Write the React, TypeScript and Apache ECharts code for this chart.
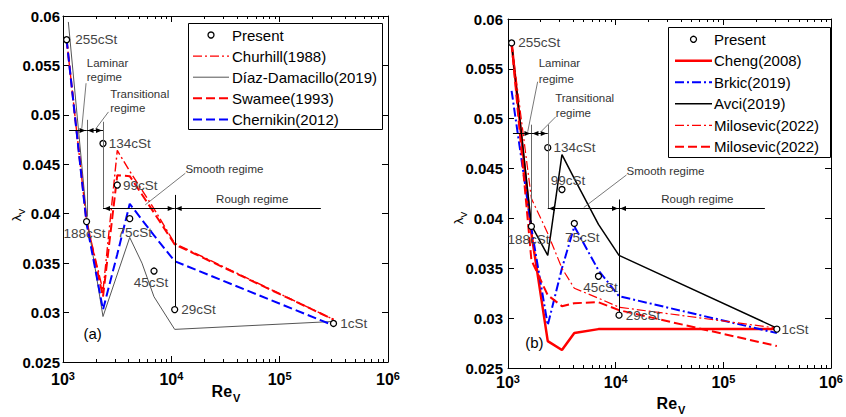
import React, { useEffect, useRef } from "react";
import * as echarts from "echarts";

const FONT = "'Liberation Sans', Arial, Helvetica, sans-serif";

// ---------- data ----------
const reynolds = [1080, 1650, 2340, 3170, 4130, 6920, 10740, 314000];
const presentLambda = [0.0576, 0.0392, 0.0471, 0.0429, 0.0395, 0.0342, 0.0303, 0.0289];
const viscosityLabels = ["255cSt", "188cSt", "134cSt", "99cSt", "75cSt", "45cSt", "29cSt", "1cSt"];

// panel (a)
const churchillLambda = [0.0576, 0.0392, 0.0322, 0.0464, 0.0443, 0.0405, 0.037, 0.0293];
const diazReynolds = [1120, 1650, 2340, 4130, 5360, 6920, 10740, 314000];
const diazLambda = [0.0594, 0.0398, 0.0296, 0.0376, 0.035, 0.0316, 0.0283, 0.0291];
const swameeLambda = [0.0576, 0.0392, 0.0316, 0.0439, 0.0438, 0.0401, 0.0369, 0.0293];
const chernikinLambda = [0.0576, 0.039, 0.0303, 0.0359, 0.041, 0.0378, 0.0352, 0.0287];

// panel (b)
const chengLambda = [0.0576, 0.0385, 0.0277, 0.0268, 0.0285, 0.0289, 0.0289, 0.0289];
const brkicLambda = [0.0528, 0.039, 0.0293, 0.035, 0.0392, 0.0348, 0.0322, 0.0285];
const avciLambda = [0.0576, 0.0393, 0.0363, 0.0464, 0.044, 0.0394, 0.0363, 0.029];
const milosevicDashDotLambda = [0.0576, 0.042, 0.0385, 0.035, 0.033, 0.032, 0.0311, 0.029];
const milosevicDashedLambda = [0.0576, 0.0358, 0.0323, 0.0312, 0.0315, 0.0316, 0.0308, 0.0272];

const minorTickValues = [
  2000, 3000, 4000, 5000, 6000, 7000, 8000, 9000,
  20000, 30000, 40000, 50000, 60000, 70000, 80000, 90000,
  200000, 300000, 400000, 500000, 600000, 700000, 800000, 900000,
];

const X_MIN = 1000;
const X_MAX = 1000000;
const Y_MIN = 0.025;
const Y_MAX = 0.06;
const Y_STEP = 0.005;

// ---------- styles ----------
type LineCfg = {
  name: string;
  re: number[];
  lambda: number[];
  color: string;
  width: number;
  dash: number[] | "solid";
};

const DASH: number[] = [9, 4];
const DASHDOT: number[] = [9, 3, 2, 3];

const leftLines: LineCfg[] = [
  { name: "Churhill(1988)", re: reynolds, lambda: churchillLambda, color: "#ff0000", width: 1.4, dash: DASHDOT },
  { name: "Díaz-Damacillo(2019)", re: diazReynolds, lambda: diazLambda, color: "#555555", width: 1, dash: "solid" },
  { name: "Swamee(1993)", re: reynolds, lambda: swameeLambda, color: "#ff0000", width: 2, dash: DASH },
  { name: "Chernikin(2012)", re: reynolds, lambda: chernikinLambda, color: "#0000ff", width: 2, dash: DASH },
];

const rightLines: LineCfg[] = [
  { name: "Cheng(2008)", re: reynolds, lambda: chengLambda, color: "#ff0000", width: 2.5, dash: "solid" },
  { name: "Brkic(2019)", re: reynolds, lambda: brkicLambda, color: "#0000ff", width: 2, dash: DASHDOT },
  { name: "Avci(2019)", re: reynolds, lambda: avciLambda, color: "#000000", width: 1.5, dash: "solid" },
  { name: "Milosevic(2022)", re: reynolds, lambda: milosevicDashDotLambda, color: "#ff0000", width: 1.2, dash: DASHDOT },
  { name: "Milosevic(2022) ", re: reynolds, lambda: milosevicDashedLambda, color: "#ff0000", width: 2, dash: DASH },
];

type LabelLayout = { position: string; distance: number; offset?: number[] };
const leftLabelLayout: Record<string, LabelLayout> = {
  "255cSt": { position: "right", distance: 5 },
  "188cSt": { position: "bottom", distance: 1, offset: [-2, 0] },
  "134cSt": { position: "right", distance: 2 },
  "99cSt": { position: "right", distance: 2 },
  "75cSt": { position: "bottom", distance: 3, offset: [5, 0] },
  "45cSt": { position: "bottom", distance: 1, offset: [-3, 0] },
  "29cSt": { position: "right", distance: 3 },
  "1cSt": { position: "right", distance: 3 },
};
const rightLabelLayout: Record<string, LabelLayout> = {
  "255cSt": { position: "right", distance: 3 },
  "188cSt": { position: "bottom", distance: 2, offset: [-3, 0] },
  "134cSt": { position: "right", distance: 2 },
  "99cSt": { position: "top", distance: -2, offset: [6, 0] },
  "75cSt": { position: "bottom", distance: 3, offset: [8, 0] },
  "45cSt": { position: "bottom", distance: 1, offset: [2, 0] },
  "29cSt": { position: "right", distance: 3 },
  "1cSt": { position: "right", distance: 1 },
};

// annotation geometry in data coordinates (Re, lambda)
type Annot = {
  vLines: { re: number; y1: number; y2: number; color: string }[];
  arrows: { from: number[]; to: number[]; heads: "start" | "end" | "both" }[];
  leaders: number[][][];
  texts: { text: string; at: number[]; align: string }[];
  panel: { text: string; at: number[] };
};

const leftAnnot: Annot = {
  vLines: [
    { re: 1650, y1: 0.0495, y2: 0.0397, color: "#666" },
    { re: 2340, y1: 0.0493, y2: 0.0406, color: "#666" },
    { re: 10740, y1: 0.0419, y2: 0.0306, color: "#000" },
  ],
  arrows: [
    { from: [1137, 0.0485], to: [1650, 0.0485], heads: "end" },
    { from: [1650, 0.0485], to: [2340, 0.0485], heads: "both" },
    { from: [2340, 0.0406], to: [10740, 0.0406], heads: "both" },
    { from: [10740, 0.0406], to: [240000, 0.0406], heads: "start" },
  ],
  leaders: [
    [[1633, 0.0532], [1490, 0.0486]],
    [[2629, 0.0503], [1979, 0.0485]],
    [[13480, 0.0441], [5745, 0.0409]],
  ],
  texts: [
    { text: "Laminar", at: [1658, 0.05525], align: "left" },
    { text: "regime", at: [1658, 0.05383], align: "left" },
    { text: "Transitional", at: [2725, 0.05211], align: "left" },
    { text: "regime", at: [2725, 0.05069], align: "left" },
    { text: "Smooth regime", at: [13480, 0.04452], align: "left" },
    { text: "Rough regime", at: [55800, 0.04149], align: "center" },
  ],
  panel: { text: "(a)", at: [1875, 0.0279] },
};

const rightAnnot: Annot = {
  vLines: [
    { re: 1650, y1: 0.0494, y2: 0.0399, color: "#666" },
    { re: 2340, y1: 0.0494, y2: 0.041, color: "#666" },
    { re: 10740, y1: 0.0419, y2: 0.0306, color: "#000" },
  ],
  arrows: [
    { from: [1111, 0.04855], to: [1650, 0.04855], heads: "end" },
    { from: [1650, 0.04855], to: [2340, 0.04855], heads: "both" },
    { from: [2340, 0.041], to: [10740, 0.041], heads: "both" },
    { from: [10740, 0.041], to: [243000, 0.041], heads: "start" },
  ],
  leaders: [
    [[1885, 0.05371], [1525, 0.0487]],
    [[2780, 0.0502], [2024, 0.0487]],
    [[12600, 0.04436], [5055, 0.0411]],
  ],
  texts: [
    { text: "Laminar", at: [1926, 0.05556], align: "left" },
    { text: "regime", at: [1926, 0.05398], align: "left" },
    { text: "Transitional", at: [2740, 0.05205], align: "left" },
    { text: "regime", at: [2780, 0.05054], align: "left" },
    { text: "Smooth regime", at: [12600, 0.04479], align: "left" },
    { text: "Rough regime", at: [57300, 0.04192], align: "center" },
  ],
  panel: { text: "(b)", at: [1758, 0.02754] },
};

// ---------- option builders ----------
function xAxisPair(gridIndex: number, labelMargin: number) {
  const base = {
    type: "log",
    logBase: 10,
    min: X_MIN,
    max: X_MAX,
    gridIndex,
    axisLine: { show: true, onZero: false, lineStyle: { color: "#000", width: 1 } },
    axisTick: { show: true, inside: true, length: 6, lineStyle: { color: "#000" } },
    splitLine: { show: false },
  };
  return [
    {
      ...base,
      position: "bottom",
      axisLabel: {
        show: true,
        margin: labelMargin,
        formatter: (v: number) => `{b|10}{s|${Math.round(Math.log10(v))}}`,
        rich: {
          b: { fontSize: 16, fontWeight: "bold", fontFamily: FONT, color: "#000", lineHeight: 18 },
          s: { fontSize: 11, fontWeight: "bold", fontFamily: FONT, color: "#000", verticalAlign: "top", lineHeight: 11 },
        },
      },
    },
    { ...base, position: "top", axisLabel: { show: false } },
  ];
}

function yAxisPair(gridIndex: number, labelMargin: number) {
  const base = {
    type: "value",
    min: Y_MIN,
    max: Y_MAX,
    interval: Y_STEP,
    gridIndex,
    axisLine: { show: true, onZero: false, lineStyle: { color: "#000", width: 1 } },
    axisTick: { show: true, inside: true, length: 6, lineStyle: { color: "#000" } },
    splitLine: { show: false },
  };
  return [
    {
      ...base,
      position: "left",
      axisLabel: {
        show: true,
        margin: labelMargin,
        fontSize: 15,
        fontWeight: "bold",
        fontFamily: FONT,
        color: "#000",
        formatter: (v: number) => String(parseFloat(v.toFixed(3))),
      },
    },
    { ...base, position: "right", axisLabel: { show: false } },
  ];
}

function lineSeries(cfgs: LineCfg[], axisIndex: number) {
  return cfgs.map((c) => ({
    type: "line",
    name: c.name,
    xAxisIndex: axisIndex,
    yAxisIndex: axisIndex,
    data: c.re.map((r, i) => [r, c.lambda[i]]),
    symbol: "none",
    showSymbol: false,
    silent: true,
    z: 2,
    lineStyle: { color: c.color, width: c.width, type: c.dash },
  }));
}

function presentSeries(axisIndex: number, layout: Record<string, LabelLayout>) {
  return {
    type: "scatter",
    name: "Present",
    xAxisIndex: axisIndex,
    yAxisIndex: axisIndex,
    symbol: "circle",
    symbolSize: 6,
    z: 5,
    silent: true,
    itemStyle: { color: "#fff", borderColor: "#000", borderWidth: 1.3, opacity: 1 },
    emphasis: { disabled: true },
    data: reynolds.map((r, i) => {
      const name = viscosityLabels[i];
      const l = layout[name];
      return {
        value: [r, presentLambda[i]],
        label: {
          show: true,
          formatter: name,
          position: l.position,
          distance: l.distance,
          offset: l.offset || [0, 0],
          color: "#444",
          fontSize: 13.5,
          fontFamily: FONT,
        },
      };
    }),
  };
}

const option = {
  animation: false,
  backgroundColor: "#fff",
  grid: [
    { left: 63, top: 16, width: 325, height: 346 },
    { left: 508, top: 19, width: 327, height: 349 },
  ],
  xAxis: [...xAxisPair(0, 8), ...xAxisPair(1, 5)],
  yAxis: [...yAxisPair(0, 3), ...yAxisPair(1, 5)],
  series: [
    ...lineSeries(leftLines, 0),
    presentSeries(0, leftLabelLayout),
    ...lineSeries(rightLines, 2),
    presentSeries(2, rightLabelLayout),
  ],
};

// ---------- graphics (annotations, legends, minor ticks) ----------
function buildGraphics(chart: any) {
  const els: any[] = [];
  const Z = 50;
  const px = (k: number, p: number[]) => chart.convertToPixel({ xAxisIndex: k, yAxisIndex: k }, p) as number[];
  const crisp = (v: number) => Math.round(v) + 0.5;

  const line = (x1: number, y1: number, x2: number, y2: number, stroke: string, w = 1) =>
    els.push({ type: "line", z: Z, silent: true, shape: { x1, y1, x2, y2 }, style: { stroke, lineWidth: w } });

  const arrowHead = (tip: number[], from: number[]) => {
    const dx = tip[0] - from[0];
    const dy = tip[1] - from[1];
    const len = Math.hypot(dx, dy) || 1;
    const ux = dx / len;
    const uy = dy / len;
    const L = 6;
    const W = 2.6;
    els.push({
      type: "polygon",
      z: Z,
      silent: true,
      shape: {
        points: [
          [tip[0], tip[1]],
          [tip[0] - L * ux + W * uy, tip[1] - L * uy - W * ux],
          [tip[0] - L * ux - W * uy, tip[1] - L * uy + W * ux],
        ],
      },
      style: { fill: "#000" },
    });
  };

  const annotate = (k: number, a: Annot) => {
    a.vLines.forEach((v) => {
      const p1 = px(k, [v.re, v.y1]);
      const p2 = px(k, [v.re, v.y2]);
      line(crisp(p1[0]), p1[1], crisp(p1[0]), p2[1], v.color, 1);
    });
    a.arrows.forEach((ar) => {
      const p1 = px(k, ar.from);
      const p2 = px(k, ar.to);
      const y = crisp(p1[1]);
      line(p1[0], y, p2[0], y, "#000", 1);
      if (ar.heads === "end" || ar.heads === "both") arrowHead([p2[0] - 1, y], [p1[0], y]);
      if (ar.heads === "start" || ar.heads === "both") arrowHead([p1[0] + 1, y], [p2[0], y]);
    });
    a.leaders.forEach((ld) => {
      const p1 = px(k, ld[0]);
      const p2 = px(k, ld[1]);
      line(p1[0], p1[1], p2[0], p2[1], "#555", 0.8);
    });
    a.texts.forEach((t) => {
      const p = px(k, t.at);
      els.push({
        type: "text",
        z: Z,
        silent: true,
        x: p[0],
        y: p[1],
        style: {
          text: t.text,
          fill: "#333",
          fontSize: 11.5,
          fontFamily: FONT,
          align: t.align,
          verticalAlign: "middle",
        },
      });
    });
    const pp = px(k, a.panel.at);
    els.push({
      type: "text",
      z: Z,
      silent: true,
      x: pp[0],
      y: pp[1],
      style: { text: a.panel.text, fill: "#000", fontSize: 15, fontFamily: FONT, align: "center", verticalAlign: "middle" },
    });

    // minor ticks (log axis) on bottom and top edges
    minorTickValues.forEach((v) => {
      const pb = px(k, [v, Y_MIN]);
      const pt = px(k, [v, Y_MAX]);
      const x = crisp(pb[0]);
      line(x, pb[1], x, pb[1] - 3, "#000", 1);
      line(x, pt[1], x, pt[1] + 3, "#000", 1);
    });
  };

  annotate(0, leftAnnot);
  annotate(2, rightAnnot);

  // axis names
  const axisNames = [
    { re: [226, 393], lam: [18, 215] },
    { re: [671, 405], lam: [460, 218] },
  ];
  axisNames.forEach((n) => {
    els.push({
      type: "text",
      z: Z,
      silent: true,
      x: n.re[0],
      y: n.re[1],
      style: {
        text: "{a|Re}{s|V}",
        align: "center",
        verticalAlign: "middle",
        rich: {
          a: { fontSize: 16, fontWeight: "bold", fontFamily: FONT, fill: "#000", lineHeight: 20, verticalAlign: "top" },
          s: { fontSize: 11, fontWeight: "bold", fontFamily: FONT, fill: "#000", lineHeight: 20, verticalAlign: "bottom", padding: [0, 0, 0, 1] },
        },
      },
    });
    els.push({
      type: "text",
      z: Z,
      silent: true,
      x: n.lam[0],
      y: n.lam[1],
      rotation: Math.PI / 2,
      style: {
        text: "{a|λ}{s|V}",
        align: "center",
        verticalAlign: "middle",
        rich: {
          a: { fontSize: 13, fontFamily: FONT, fill: "#000", lineHeight: 16, verticalAlign: "top" },
          s: { fontSize: 9, fontFamily: FONT, fill: "#000", lineHeight: 16, verticalAlign: "bottom" },
        },
      },
    });
  });

  // legends
  const legend = (
    box: number[],
    rowY0: number,
    rowGap: number,
    sample: number[],
    textX: number,
    cfgs: LineCfg[]
  ) => {
    els.push({
      type: "rect",
      z: Z,
      silent: true,
      shape: { x: box[0] + 0.5, y: box[1] + 0.5, width: box[2], height: box[3] },
      style: { fill: "#fff", stroke: "#000", lineWidth: 1 },
    });
    const items = [{ name: "Present" } as any, ...cfgs];
    items.forEach((it: any, i: number) => {
      const y = rowY0 + i * rowGap;
      if (i === 0) {
        els.push({
          type: "circle",
          z: Z + 1,
          silent: true,
          shape: { cx: (sample[0] + sample[1]) / 2, cy: y, r: 3 },
          style: { fill: "#fff", stroke: "#000", lineWidth: 1.3 },
        });
      } else {
        els.push({
          type: "line",
          z: Z + 1,
          silent: true,
          shape: { x1: sample[0], y1: y, x2: sample[1], y2: y },
          style: {
            stroke: it.color,
            lineWidth: it.width,
            lineDash: it.dash === "solid" ? null : it.dash,
          },
        });
      }
      els.push({
        type: "text",
        z: Z + 1,
        silent: true,
        x: textX,
        y,
        style: {
          text: it.name.trim(),
          fill: "#000",
          fontSize: 15,
          fontFamily: FONT,
          align: "left",
          verticalAlign: "middle",
        },
      });
    });
  };

  legend([188, 23, 194, 106], 35, 21.1, [193, 229], 232, leftLines);
  legend([668, 27, 162, 130], 39.3, 21.5, [675, 712], 714, rightLines);

  return els;
}

export default function App() {
  const ref = useRef<HTMLDivElement>(null);
  useEffect(() => {
    if (!ref.current) return;
    const chart = echarts.init(ref.current, null, { renderer: "svg" });
    chart.setOption(option as any);
    chart.setOption({ graphic: { elements: buildGraphics(chart) } } as any);
    return () => chart.dispose();
  }, []);
  return (
    <div
      ref={ref}
      style={{ position: "fixed", left: 0, top: 0, width: 846, height: 417, background: "#fff" }}
    />
  );
}
